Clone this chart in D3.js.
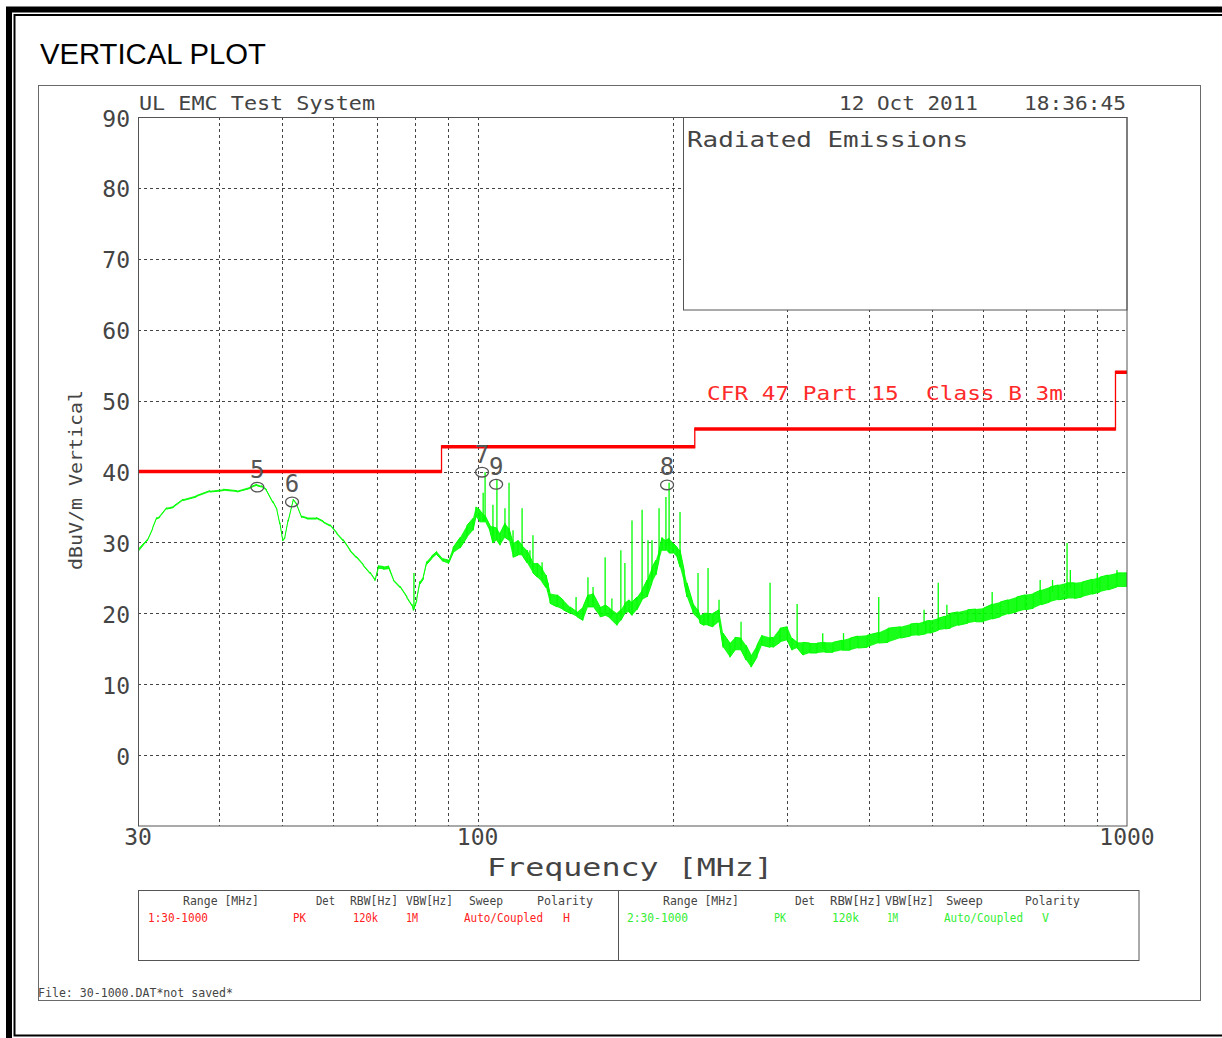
<!DOCTYPE html>
<html><head><meta charset="utf-8">
<script src="https://cdn.jsdelivr.net/npm/d3@7"></script>
<style>html,body{margin:0;padding:0;background:#fff;overflow:hidden}svg{display:block}</style>
</head><body>
<svg id="c" width="1222" height="1038"></svg>
<script>
// ---------------- data ----------------
const yTickValues = [90, 80, 70, 60, 50, 40, 30, 20, 10, 0];
const xTickValues = [30, 100, 1000];
const xGridValues = [40, 50, 60, 70, 80, 90, 100, 200, 300, 400, 500, 600, 700, 800, 900];

const limitStart = [30, 88, 216, 960];
const limitEnd   = [88, 216, 960, 1000];
const limitLevel = [40, 43.5, 46, 54];

const bandFreq = [30.0,31.0,31.6,32.05,32.4,33.2,34.0,35.2,36.9,38.7,40.6,42.6,44.6,45.7,46.5,47.3,48.4,49.1,49.6,50.1,50.5,51.1,52.0,52.7,53.6,54.6,56.5,57.9,59.3,60.7,62.1,63.6,65.1,66.7,68.3,69.5,70.3,71.6,72.9,74.2,76.0,77.8,79.2,79.6,80.6,81.5,82.5,83.5,85.0,86.5,88.5,90.2,
91.7,94.0,96.3,98.4,99.4,100.8,102.7,104.5,105.6,107.1,108.3,110.2,111.8,113.4,115.4,117.1,119.2,121.7,123.6,125.7,127.5,129.3,132.6,135.4,138.8,142.3,145.3,147.9,150.6,154.4,157.2,159.9,164.0,166.2,168.6,171.1,172.9,176.0,179.2,182.4,185.6,188.2,190.3,192.3,195.0,197.2,200.0,202.9,205.0,208.0,210.1,214.7,218.5,220.0,223.2,226.4,230.4,235.4,238.8,244.7,249.1,254.5,259.1,263.7,269.3,274.1,282.1,285.1,292.3,299.8,304.9,310.5,317.1,324.9,333.3,342.8,352.6,364.0,374.6,385.3,398.0,414.7,428.6,448.2,464.4,476.3,490.0,497.7,512.1,525.1,534.4,549.4,568.4,584.8,600.7,620.5,638.1,656.2,676.2,697.1,717.2,737.5,760.8,783.5,808.5,830.3,852.7,883.9,908.3,934.7,964.6,1000];
const bandLow = [28.6,30.2,31.9,33.3,33.5,34.7,34.9,35.9,36.4,37.1,37.3,37.1,37.6,38.0,37.8,37.3,35.6,34.5,32.6,30.2,30.6,33.0,35.9,35.2,33.5,33.3,33.3,32.8,32.3,31.2,30.2,28.8,27.8,26.7,25.6,24.6,26.3,26.2,26.3,24.6,23.6,22.2,21.1,20.4,21.7,24.1,24.8,26.9,27.7,28.3,27.3,27.0,
28.5,29.2,30.7,31.7,33.6,32.9,32.9,31.5,29.9,30.3,29.6,30.7,30.3,27.9,28.2,28.2,27.1,25.7,25.1,24.4,23.6,21.4,20.9,20.5,20.0,19.5,19.0,20.9,20.9,19.5,19.7,19.3,18.3,19.0,20.0,20.2,19.7,20.5,21.9,22.3,24.3,25.4,27.5,28.9,28.9,28.5,28.5,27.9,26.5,24.3,22.3,20.0,19.3,18.6,18.3,18.3,18.1,18.8,15.2,13.8,14.8,14.8,13.4,12.4,13.8,15.5,15.2,15.2,15.9,16.2,14.8,15.1,14.1,14.4,14.4,14.5,14.5,14.8,14.8,15.1,15.2,15.8,15.9,16.5,16.8,16.9,17.1,17.2,17.6,17.8,17.9,18.3,18.6,18.8,18.8,19.2,19.5,19.9,20.2,20.5,20.7,21.2,21.6,21.9,22.1,22.1,22.3,22.7,23.0,23.3,23.7,23.7];
const bandHigh = [29.0,30.4,32.1,33.5,33.7,34.9,35.1,36.1,36.6,37.3,37.5,37.3,37.8,38.2,38.0,37.5,35.8,34.7,32.8,30.4,30.8,33.2,36.1,35.4,33.7,33.5,33.5,33.0,32.5,31.4,30.4,29.0,28.0,26.9,25.8,24.8,26.7,26.6,26.7,24.8,23.8,22.4,21.3,20.6,22.1,24.5,25.2,27.3,28.1,28.7,27.7,27.5,
29.3,30.7,32.4,33.4,35.0,34.6,33.8,32.4,32.2,32.0,31.3,32.7,32.0,29.9,30.3,29.6,28.9,27.1,27.1,26.4,25.4,22.8,22.6,21.9,20.9,20.2,20.9,22.6,22.8,20.9,21.2,20.7,20.0,20.5,21.4,21.9,21.6,22.3,23.3,24.7,26.5,27.5,28.9,30.7,30.3,30.6,29.9,29.3,28.9,26.1,24.3,21.4,20.5,19.7,20.0,20.0,20.0,20.5,17.2,15.8,16.6,16.5,15.5,14.1,15.5,16.9,16.6,16.6,17.9,18.1,16.5,15.9,15.9,15.8,15.8,15.9,15.9,16.2,16.5,16.8,16.9,17.3,17.9,18.1,18.5,18.6,18.9,19.0,19.3,19.6,20.0,20.2,20.5,20.6,20.7,21.3,21.6,21.9,22.3,22.6,22.8,23.3,23.7,24.0,24.3,24.3,24.4,24.8,25.1,25.4,25.7,25.7];

const spikeFreq = [79.8,102.0,102.7,105.6,107.1,110.2,111.8,113.4,117.1,120.4,121.7,125.7,128.4,141.8,147.9,150.6,157.2,161.0,166.2,168.6,172.9,179.2,183.0,185.6,190.3,195.0,197.2,205.0,218.5,226.4,235.4,254.5,282.1,310.5,340.0,366.0,414.7,487.0,512.1,528.0,620.0,735.0,768.0,808.5,818.0,900.0,965.0];
const spikeBase = [20.5,33.0,33.0,31.0,31.0,31.5,31.0,29.0,29.0,27.0,26.5,25.5,23.0,20.0,21.5,21.5,20.5,19.5,19.8,20.5,20.5,22.5,23.5,25.0,28.0,29.5,29.5,27.5,20.0,19.0,19.5,15.5,16.0,15.5,15.0,15.0,16.5,18.5,18.5,19.5,20.3,22.0,23.0,23.0,23.5,23.5,25.0];
const spikeTop  = [25.7,37.0,39.9,35.3,38.8,34.8,38.4,31.7,34.8,28.9,31.0,27.2,24.3,22.3,25.1,23.7,27.9,22.1,28.9,27.1,33.1,34.6,30.3,30.3,34.8,36.4,38.4,34.3,25.7,26.4,21.9,18.8,24.3,21.3,17.2,17.2,22.3,20.5,24.3,21.2,23.0,24.7,24.7,29.9,26.1,25.7,26.1];

const markerLabel = ["5", "6", "7", "9", "8"];
const markerFreq  = [45.8, 51.8, 101.6, 106.8, 195.8];
const markerLevel = [37.8, 35.7, 39.9, 38.2, 38.1];

const legendHeaders = ["Range [MHz]", "Det", "RBW[Hz]", "VBW[Hz]", "Sweep", "Polarity"];
const trace1Values = ["1:30-1000", "PK", "120k", "1M", "Auto/Coupled", "H"];
const trace2Values = ["2:30-1000", "PK", "120k", "1M", "Auto/Coupled", "V"];

// ---------------- drawing ----------------
const svg = d3.select("#c");
const MONO = "'DejaVu Sans Mono', monospace";
const INK = "#444";

const x = d3.scaleLog().domain([30, 1000]).range([138, 1127]);
const y = d3.scaleLinear().domain([-10, 90]).range([826, 117]);

function txt(s, px, py, size, opt = {}) {
  const t = svg.append("text").attr("x", px).attr("y", py)
    .attr("font-family", opt.family || MONO).attr("font-size", size)
    .attr("fill", opt.color || INK).attr("text-anchor", opt.anchor || "start")
    .style("white-space", "pre").text(s);
  if (opt.len) t.attr("textLength", opt.len).attr("lengthAdjust", "spacingAndGlyphs");
  if (opt.transform) t.attr("transform", opt.transform);
  return t;
}

// outer frames
svg.append("rect").attr("x", 9).attr("y", 9.5).attr("width", 1300).attr("height", 1040)
  .attr("fill", "none").attr("stroke", "#000").attr("stroke-width", 6);
svg.append("rect").attr("x", 14.5).attr("y", 15).attr("width", 1300).attr("height", 1020.5)
  .attr("fill", "none").attr("stroke", "#000").attr("stroke-width", 2);

txt("VERTICAL PLOT", 40, 64, 29.5, {family: "'Liberation Sans', Arial, sans-serif", color: "#000", len: 226});

// panel
svg.append("rect").attr("x", 38.5).attr("y", 85.5).attr("width", 1162).attr("height", 915)
  .attr("fill", "none").attr("stroke", "#6a6a6a").attr("stroke-width", 1);

// grid
const grid = svg.append("g").attr("stroke", "#444").attr("stroke-width", 1).attr("stroke-dasharray", "3,3");
grid.selectAll("line.v").data(xGridValues).join("line")
  .attr("x1", d => Math.round(x(d)) + 0.5).attr("x2", d => Math.round(x(d)) + 0.5)
  .attr("y1", 117).attr("y2", 826);
grid.selectAll("line.h").data(yTickValues.filter(v => v < 90)).join("line")
  .attr("y1", d => Math.round(y(d)) + 0.5).attr("y2", d => Math.round(y(d)) + 0.5)
  .attr("x1", 138).attr("x2", 1127);

// clip
svg.append("clipPath").attr("id", "pc").append("rect")
  .attr("x", 138).attr("y", 117).attr("width", 989).attr("height", 709);

const band = bandFreq.map((f, i) => ({f, lo: bandLow[i], hi: bandHigh[i]}));
const plot = svg.append("g").attr("clip-path", "url(#pc)");

plot.append("path").datum(band)
  .attr("d", d3.area().x(d => x(d.f)).y0(d => y(d.lo)).y1(d => y(d.hi)))
  .attr("fill", "#00ff00").attr("fill-opacity", 0.9);

const zig = [];
band.forEach((d, i) => {
  if (i % 2 === 0) { zig.push([x(d.f), y(d.lo)]); zig.push([x(d.f), y(d.hi)]); }
  else { zig.push([x(d.f), y(d.hi)]); zig.push([x(d.f), y(d.lo)]); }
});
plot.append("path").attr("d", d3.line()(zig))
  .attr("fill", "none").attr("stroke", "#00ff00").attr("stroke-width", 1);

plot.selectAll("line.spike").data(spikeFreq).join("line")
  .attr("x1", d => x(d)).attr("x2", d => x(d))
  .attr("y1", (d, i) => y(spikeBase[i])).attr("y2", (d, i) => y(spikeTop[i]))
  .attr("stroke", "#00ff00").attr("stroke-width", 1.3);

// Radiated Emissions box
svg.append("rect").attr("x", 683.5).attr("y", 117.5).attr("width", 443.5).attr("height", 192.5)
  .attr("fill", "#fff").attr("stroke", "#555").attr("stroke-width", 1);
txt("Radiated Emissions", 687, 147, 21, {len: 281});

// limit line
const lim = svg.append("g");
lim.selectAll("line.h").data(limitLevel).join("line")
  .attr("x1", (d, i) => x(limitStart[i])).attr("x2", (d, i) => x(limitEnd[i]))
  .attr("y1", d => y(d)).attr("y2", d => y(d))
  .attr("stroke", "#ff0000").attr("stroke-width", 3.5);
lim.selectAll("line.v").data(limitLevel.slice(1)).join("line")
  .attr("x1", (d, i) => x(limitStart[i + 1])).attr("x2", (d, i) => x(limitStart[i + 1]))
  .attr("y1", (d, i) => y(limitLevel[i]) + 1.5).attr("y2", d => y(d) - 1.5)
  .attr("stroke", "#ff0000").attr("stroke-width", 1.3);
txt("CFR 47 Part 15  Class B 3m", 707, 400, 20, {color: "#ff2a2a", len: 356});

// markers
const mk = svg.append("g");
mk.selectAll("ellipse").data(markerFreq).join("ellipse")
  .attr("cx", d => x(d)).attr("cy", (d, i) => y(markerLevel[i]))
  .attr("rx", 6.5).attr("ry", 4.8).attr("fill", "none").attr("stroke", "#555").attr("stroke-width", 1.3);
markerFreq.forEach((f, i) => {
  txt(markerLabel[i], x(f), y(markerLevel[i]) - 9.5, 24, {anchor: "middle", color: "#555"});
});

// plot frame
svg.append("rect").attr("x", 138.5).attr("y", 117.5).attr("width", 988.5).attr("height", 708.5)
  .attr("fill", "none").attr("stroke", "#555").attr("stroke-width", 1);

// y tick labels
yTickValues.forEach(v => txt(String(v), 130, y(v) + 9.5, 23, {anchor: "end"}));
// x tick labels
xTickValues.forEach(v => txt(String(v), x(v), 845, 23, {anchor: "middle"}));

// header
txt("UL EMC Test System", 139, 110, 19, {len: 236});
txt("12 Oct 2011", 839, 110, 19, {len: 139});
txt("18:36:45", 1024, 110, 19, {len: 102});

// axis titles
txt("Frequency [MHz]", 630, 876, 25, {anchor: "middle", len: 286});
txt("dBuV/m Vertical", 0, 0, 18, {anchor: "middle", len: 180, transform: "translate(82,480) rotate(-90)"});

// legend table
svg.append("rect").attr("x", 138.5).attr("y", 890.5).attr("width", 1000.5).attr("height", 70)
  .attr("fill", "none").attr("stroke", "#555").attr("stroke-width", 1);
svg.append("line").attr("x1", 618.5).attr("x2", 618.5).attr("y1", 890.5).attr("y2", 960.5)
  .attr("stroke", "#555").attr("stroke-width", 1);

const hdrL = [[183, 259], [316, 335], [350, 398], [406, 453], [469, 503], [537, 593]];
const valL = [[148, 208], [293, 306], [353, 378], [406, 418], [464, 543], [563, 570]];
const hdrR = [[663, 739], [795, 815], [830, 882], [885, 934], [946, 983], [1025, 1080]];
const valR = [[627, 688], [774, 786], [832, 859], [887, 898], [944, 1023], [1042, 1049]];
legendHeaders.forEach((s, i) => {
  txt(s, hdrL[i][0], 905, 13, {len: hdrL[i][1] - hdrL[i][0]});
  txt(s, hdrR[i][0], 905, 13, {len: hdrR[i][1] - hdrR[i][0]});
});
trace1Values.forEach((s, i) => txt(s, valL[i][0], 922, 13, {color: "#ff2020", len: Math.max(7, valL[i][1] - valL[i][0])}));
trace2Values.forEach((s, i) => txt(s, valR[i][0], 922, 13, {color: "#33ee33", len: Math.max(7, valR[i][1] - valR[i][0])}));

txt("File: 30-1000.DAT*not saved*", 38, 997, 13, {len: 195});
</script>
</body></html>
